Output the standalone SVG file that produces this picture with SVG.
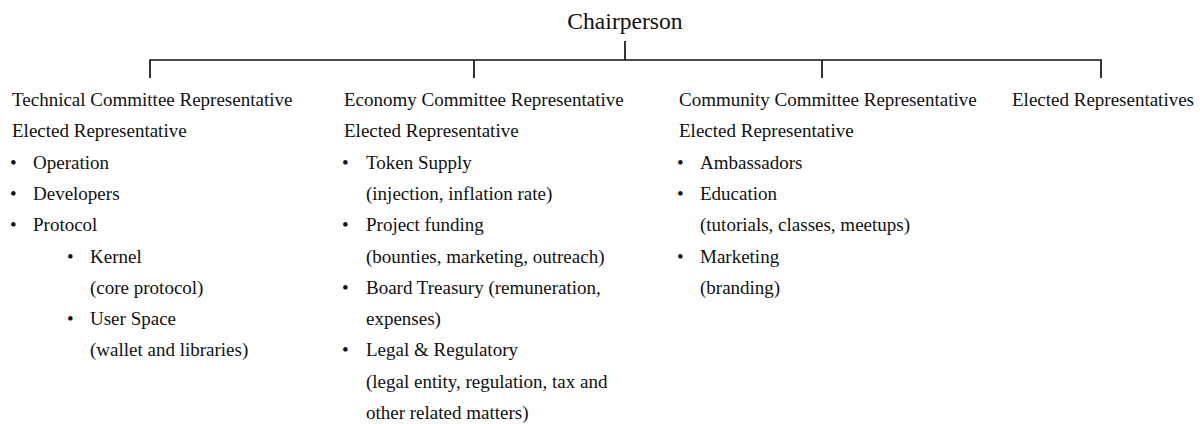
<svg xmlns="http://www.w3.org/2000/svg" width="1200" height="424" viewBox="0 0 1200 424">
<style>
text{font-family:'Liberation Serif','DejaVu Serif',serif;fill:#111;font-size:19px}
.title{font-size:23.6px}
.ln{stroke:#111;stroke-width:1.7;fill:none}
</style>
<rect width="1200" height="424" fill="#fff"/>
<g id="connectors">
<path class="ln" d="M625 41V60M150 60H1101M150 59.2V78M474 60V78M822 60V78M1101 59.2V78"/>
</g>
<g id="chair"><text class="title" x="625" y="29" text-anchor="middle">Chairperson</text></g>
<g id="technical">
<text x="12" y="106">Technical Committee Representative</text>
<text x="12" y="137.3">Elected Representative</text>
<text x="10" y="168.6">•</text><text x="33" y="168.6">Operation</text>
<text x="10" y="199.9">•</text><text x="33" y="199.9">Developers</text>
<text x="10" y="231.2">•</text><text x="33" y="231.2">Protocol</text>
<text x="67" y="262.5">•</text><text x="90" y="262.5">Kernel</text>
<text x="90" y="293.8">(core protocol)</text>
<text x="67" y="325.1">•</text><text x="90" y="325.1">User Space</text>
<text x="90" y="356.4">(wallet and libraries)</text>
</g>
<g id="economy">
<text x="344" y="106">Economy Committee Representative</text>
<text x="344" y="137.3">Elected Representative</text>
<text x="342" y="168.6">•</text><text x="366" y="168.6">Token Supply</text>
<text x="366" y="199.9">(injection, inflation rate)</text>
<text x="342" y="231.2">•</text><text x="366" y="231.2">Project funding</text>
<text x="366" y="262.5">(bounties, marketing, outreach)</text>
<text x="342" y="293.8">•</text><text x="366" y="293.8">Board Treasury (remuneration,</text>
<text x="366" y="325.1">expenses)</text>
<text x="342" y="356.4">•</text><text x="366" y="356.4">Legal &amp; Regulatory</text>
<text x="366" y="387.7">(legal entity, regulation, tax and</text>
<text x="366" y="419">other related matters)</text>
</g>
<g id="community">
<text x="679" y="106">Community Committee Representative</text>
<text x="679" y="137.3">Elected Representative</text>
<text x="677" y="168.6">•</text><text x="700" y="168.6">Ambassadors</text>
<text x="677" y="199.9">•</text><text x="700" y="199.9">Education</text>
<text x="700" y="231.2">(tutorials, classes, meetups)</text>
<text x="677" y="262.5">•</text><text x="700" y="262.5">Marketing</text>
<text x="700" y="293.8">(branding)</text>
</g>
<g id="elected">
<text x="1012" y="106">Elected Representatives</text>
</g>
</svg>
